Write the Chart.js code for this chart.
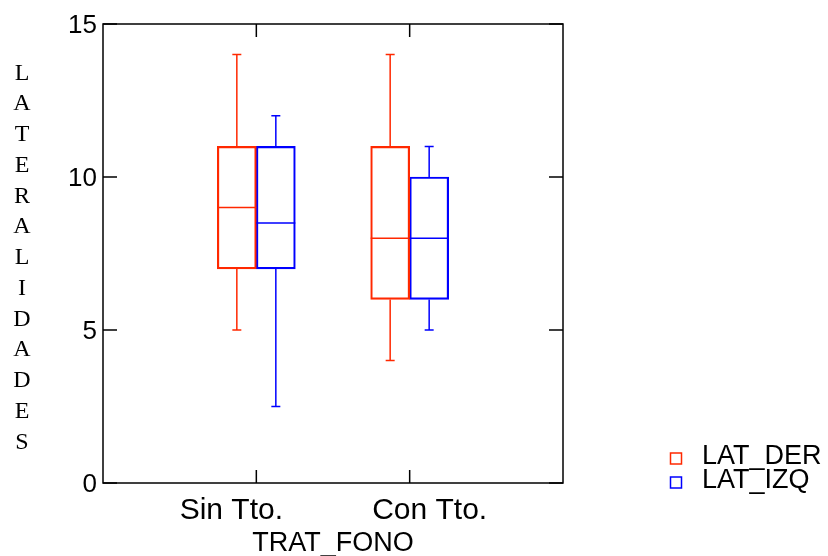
<!DOCTYPE html>
<html><head><meta charset="utf-8">
<script src="https://cdn.jsdelivr.net/npm/chart.js@4.4.0/dist/chart.umd.min.js"></script>
<style>html,body{margin:0;padding:0;background:#fff;}#wrap{position:relative;width:828px;height:556px;}</style>
</head><body><div id="wrap"><canvas id="c" width="828" height="556"></canvas></div>
<script>
const categories = ['Sin Tto.', 'Con Tto.'];
const seriesNames = ['LAT_DER', 'LAT_IZQ'];
const latDerMin = [5, 4];
const latDerQ1 = [7, 6];
const latDerMedian = [9, 8];
const latDerQ3 = [11, 11];
const latDerMax = [14, 14];
const latIzqMin = [2.5, 5];
const latIzqQ1 = [7, 6];
const latIzqMedian = [8.5, 8];
const latIzqQ3 = [11, 10];
const latIzqMax = [12, 11];
const yTicks = [0, 5, 10, 15];
const yTitle = 'LATERALIDADES';
const xTitle = 'TRAT_FONO';

const RED = 'rgb(255,40,0)';
const BLUE = 'rgb(0,0,255)';
const SANS = "'Liberation Sans', Arial, sans-serif";
const SERIF = "'Liberation Serif', 'Times New Roman', serif";

const labels = ['', ...categories, ''];
const pad = a => [null, ...a, null];
function boxData(q1, q3) { return pad(q1.map((v, i) => [v, q3[i]])); }

const datasets = [
  { label: seriesNames[0], data: boxData(latDerQ1, latDerQ3), borderColor: RED,
    stats: { min: pad(latDerMin), med: pad(latDerMedian), max: pad(latDerMax), q1: pad(latDerQ1), q3: pad(latDerQ3) } },
  { label: seriesNames[1], data: boxData(latIzqQ1, latIzqQ3), borderColor: BLUE,
    stats: { min: pad(latIzqMin), med: pad(latIzqMedian), max: pad(latIzqMax), q1: pad(latIzqQ1), q3: pad(latIzqQ3) } }
].map(d => Object.assign(d, { backgroundColor: 'rgba(0,0,0,0)', borderWidth: 1.5, borderSkipped: false, barThickness: 39 }));

const boxPlugin = {
  id: 'boxExtras',
  afterDatasetsDraw(chart) {
    const ctx = chart.ctx, y = chart.scales.y;
    chart.data.datasets.forEach((ds, di) => {
      const meta = chart.getDatasetMeta(di);
      meta.data.forEach((el, i) => {
        const s = ds.stats;
        if (s.med[i] == null) return;
        const cx = el.x, w = el.width, l = cx - w / 2, r = cx + w / 2;
        ctx.save();
        ctx.strokeStyle = ds.borderColor; ctx.lineWidth = 1.5;
        ctx.beginPath();
        const ym = y.getPixelForValue(s.med[i]);
        ctx.moveTo(l, ym); ctx.lineTo(r, ym);
        const yq3 = y.getPixelForValue(s.q3[i]), yq1 = y.getPixelForValue(s.q1[i]);
        const yhi = y.getPixelForValue(s.max[i]), ylo = y.getPixelForValue(s.min[i]);
        ctx.moveTo(cx, yq3); ctx.lineTo(cx, yhi);
        ctx.moveTo(cx - 4.5, yhi); ctx.lineTo(cx + 4.5, yhi);
        ctx.moveTo(cx, yq1); ctx.lineTo(cx, ylo);
        ctx.moveTo(cx - 4.5, ylo); ctx.lineTo(cx + 4.5, ylo);
        ctx.stroke();
        ctx.restore();
      });
    });
  },
  afterDraw(chart) {
    const ctx = chart.ctx, a = chart.chartArea, x = chart.scales.x, y = chart.scales.y;
    ctx.save();
    ctx.strokeStyle = '#000'; ctx.lineWidth = 1.5;
    ctx.strokeRect(a.left, a.top, a.right - a.left, a.bottom - a.top);
    ctx.beginPath();
    yTicks.forEach(v => {
      const py = y.getPixelForValue(v);
      ctx.moveTo(a.left, py); ctx.lineTo(a.left + 14, py);
      ctx.moveTo(a.right, py); ctx.lineTo(a.right - 14, py);
    });
    categories.forEach((c, i) => {
      const px = x.getPixelForValue(i + 1);
      ctx.moveTo(px, a.top); ctx.lineTo(px, a.top + 13);
      ctx.moveTo(px, a.bottom); ctx.lineTo(px, a.bottom - 13);
    });
    ctx.stroke();
    ctx.fillStyle = '#000';
    // category labels (offset from their tick as in the original)
    const shifts = [-25, 20];
    ctx.font = '30px ' + SANS;
    ctx.textAlign = 'center'; ctx.textBaseline = 'alphabetic';
    categories.forEach((c, i) => ctx.fillText(c, x.getPixelForValue(i + 1) + shifts[i], 519));
    // vertical stacked y title
    ctx.font = '24px ' + SERIF;
    yTitle.split('').forEach((ch, i) => ctx.fillText(ch, 22, 79.5 + i * 30.75));
    // legend
    ctx.font = '27px ' + SANS;
    ctx.textAlign = 'left'; ctx.textBaseline = 'middle';
    chart.data.datasets.forEach((ds, i) => {
      const cy = 457 + i * 24;
      ctx.strokeStyle = ds.borderColor; ctx.lineWidth = 1.5;
      ctx.strokeRect(670.5, cy - 4, 11, 11);
      ctx.fillStyle = '#000';
      ctx.fillText(ds.label, 702, cy);
    });
    ctx.restore();
  }
};

new Chart(document.getElementById('c'), {
  type: 'bar',
  data: { labels, datasets },
  plugins: [boxPlugin],
  options: {
    responsive: false, animation: false, devicePixelRatio: 1,
    layout: { padding: { top: 24, right: 265, bottom: 0, left: 0 } },
    plugins: { legend: { display: false }, tooltip: { enabled: false } },
    scales: {
      x: {
        type: 'category', offset: false,
        grid: { display: false, drawTicks: false }, border: { display: false },
        ticks: { display: false, autoSkip: false },
        title: { display: true, text: xTitle, color: '#000', padding: { top: 0, bottom: -4 }, font: { family: SANS, size: 27 } },
        afterFit(s) { s.height = 73; }
      },
      y: {
        min: 0, max: 15,
        afterBuildTicks(s) { s.ticks = yTicks.map(v => ({ value: v })); },
        grid: { display: false, drawTicks: false }, border: { display: false },
        ticks: { color: '#000', padding: 6, labelOffset: 2, font: { family: SANS, size: 26 } },
        afterFit(s) { s.width = 103; }
      }
    }
  }
});
</script></body></html>
